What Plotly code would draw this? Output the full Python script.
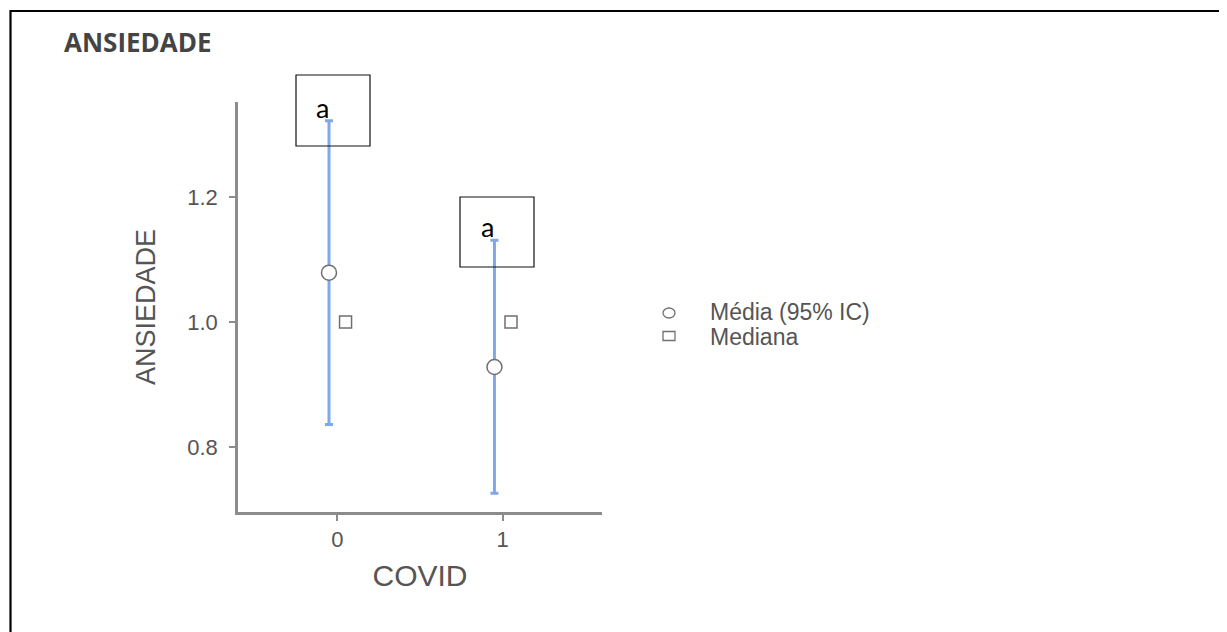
import plotly.graph_objects as go

# ---- data ----
covid_groups = [0, 1]
covid_labels = ["0", "1"]
mean_vals = [1.079, 0.928]
ci_lower = [0.836, 0.726]
ci_upper = [1.322, 1.131]
median_vals = [1.0, 1.0]
y_ticks = [0.8, 1.0, 1.2]
offset = 0.05
sig_letters = ["a", "a"]

OFF = 8  # page body margin
W, H = 1227 - OFF, 632 - OFF


def px(x):
    return (x - OFF) / W


def py(y):
    return 1 - (y - OFF) / H


grey = "#555555"
axis_grey = "#8c8c8c"
blue = "#7fa8ec"

fig = go.Figure()

fig.add_trace(go.Scatter(
    x=[g - offset for g in covid_groups],
    y=mean_vals,
    mode="markers",
    name="Média (95% IC)",
    marker=dict(symbol="circle", size=15, color="white",
                line=dict(color="#707070", width=1.5)),
    error_y=dict(type="data", symmetric=False,
                 array=[u - m for u, m in zip(ci_upper, mean_vals)],
                 arrayminus=[m - l for m, l in zip(mean_vals, ci_lower)],
                 color=blue, thickness=3, width=4),
    showlegend=False,
))

fig.add_trace(go.Scatter(
    x=[g + offset for g in covid_groups],
    y=median_vals,
    mode="markers",
    name="Mediana",
    marker=dict(symbol="square", size=12, color="white",
                line=dict(color="#707070", width=1.5)),
    showlegend=False,
))

shapes = []
annotations = []

# outer document frame
shapes.append(dict(type="rect", xref="paper", yref="paper",
                   x0=px(10.5), x1=px(1224.5), y0=-0.05, y1=py(11),
                   line=dict(color="black", width=2.2), fillcolor="rgba(0,0,0,0)"))

# boxes with significance letters
boxes = [(296, 370, 75, 146, 322, 107), (460, 534, 197, 267, 487, 227)]
for (bx0, bx1, by0, by1, tx, ty), letter in zip(boxes, sig_letters):
    shapes.append(dict(type="rect", xref="paper", yref="paper",
                       x0=px(bx0), x1=px(bx1), y0=py(by1), y1=py(by0),
                       line=dict(color="#111111", width=1.2),
                       fillcolor="rgba(0,0,0,0)"))
    annotations.append(dict(text=letter, xref="paper", yref="paper",
                            x=px(tx), y=py(ty), xanchor="center", yanchor="middle",
                            showarrow=False,
                            font=dict(family="Lato, Carlito, sans-serif", size=27, color="black")))

# title
annotations.append(dict(text="<b>ANSIEDADE</b>", xref="paper", yref="paper",
                        x=px(62), y=py(42), xanchor="left", yanchor="middle",
                        showarrow=False,
                        font=dict(family="Open Sans, sans-serif", size=26, color="#444444")))

# legend (symbols + labels)
shapes.append(dict(type="circle", xref="paper", yref="paper",
                   xsizemode="pixel", ysizemode="pixel",
                   xanchor=px(669), yanchor=py(313),
                   x0=-6, x1=6, y0=-5, y1=5,
                   line=dict(color="#707070", width=1.3), fillcolor="white"))
shapes.append(dict(type="rect", xref="paper", yref="paper",
                   xsizemode="pixel", ysizemode="pixel",
                   xanchor=px(669), yanchor=py(336),
                   x0=-6, x1=6, y0=-4.5, y1=4.5,
                   line=dict(color="#707070", width=1.3), fillcolor="white"))
for label, yy in [("Média (95% IC)", 312), ("Mediana", 337)]:
    annotations.append(dict(text=label, xref="paper", yref="paper",
                            x=px(708), y=py(yy), xanchor="left", yanchor="middle",
                            showarrow=False,
                            font=dict(family="Liberation Sans, Arial, sans-serif",
                                      size=23, color=grey)))

fig.update_layout(
    width=W, height=H,
    margin=dict(l=0, r=0, t=0, b=0),
    paper_bgcolor="white", plot_bgcolor="white",
    shapes=shapes, annotations=annotations,
    font=dict(family="Liberation Sans, Arial, sans-serif", color=grey),
    xaxis=dict(domain=[px(238), px(602)], range=[-0.6, 1.6],
               tickvals=covid_groups, ticktext=covid_labels,
               showline=True, linecolor=axis_grey, linewidth=2.5,
               ticks="outside", ticklen=6, tickwidth=2, tickcolor=axis_grey,
               ticklabelstandoff=0,
               showgrid=False, zeroline=False,
               tickfont=dict(size=22, color=grey),
               title=dict(text="COVID", font=dict(size=30, color=grey), standoff=14),
               automargin=False),
    yaxis=dict(domain=[py(512), py(102)], range=[0.696, 1.352],
               tickvals=y_ticks, tickformat=".1f",
               showline=True, linecolor=axis_grey, linewidth=2.5,
               ticks="outside", ticklen=6, tickwidth=2, tickcolor=axis_grey,
               ticklabelstandoff=7,
               showgrid=False, zeroline=False,
               tickfont=dict(size=22, color=grey),
               title=dict(text="ANSIEDADE",
                          font=dict(family="Liberation Sans, Arial", size=27, color=grey),
                          standoff=24),
               automargin=False),
)

fig.write_html("out.html")
